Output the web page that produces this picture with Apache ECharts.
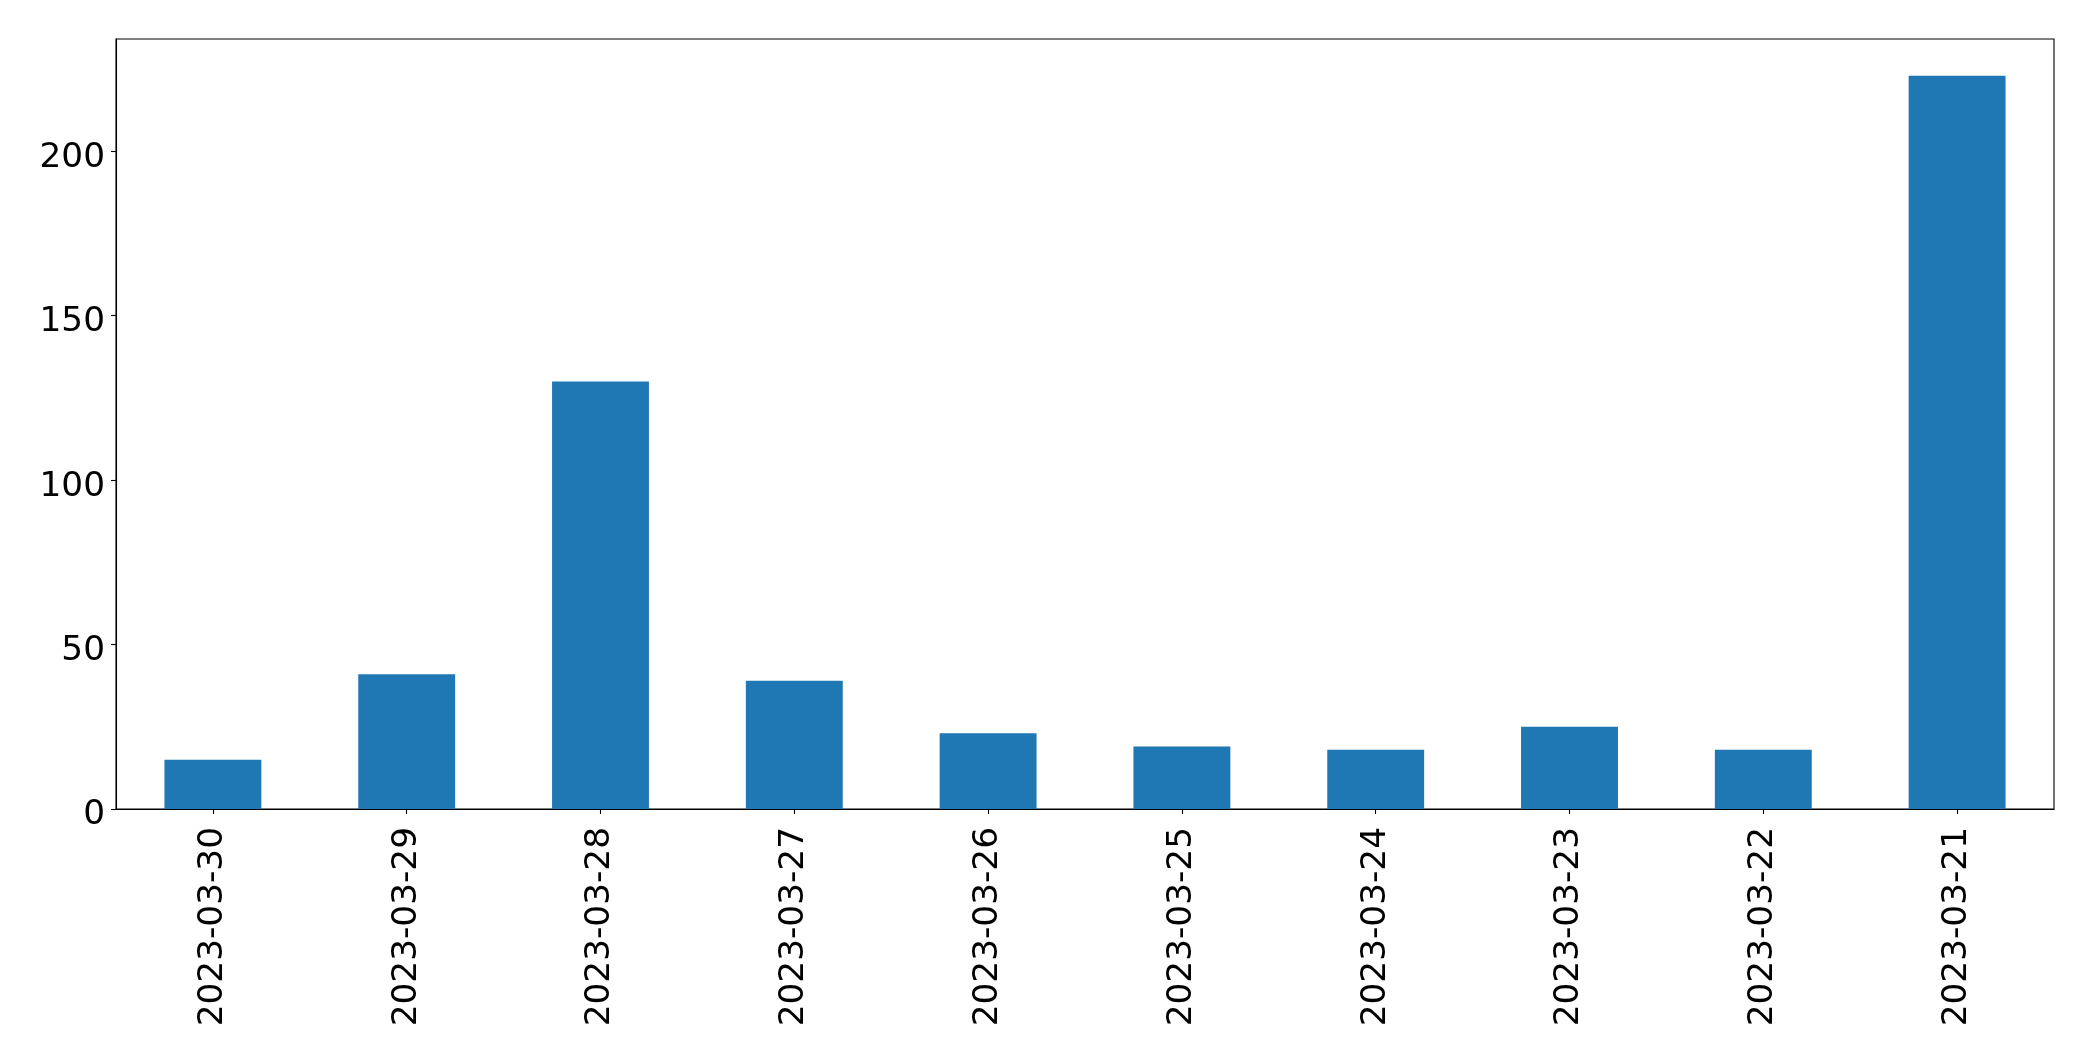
<!DOCTYPE html>
<html>
<head>
<meta charset="utf-8">
<script src="https://cdn.jsdelivr.net/npm/echarts@6/dist/echarts.min.js"></script>
<style>
html,body{margin:0;padding:0;background:#fff;}
#main{width:2093px;height:1061px;}
</style>
</head>
<body>
<div id="main"></div>
<script>
const categories = ['2023-03-30','2023-03-29','2023-03-28','2023-03-27','2023-03-26','2023-03-25','2023-03-24','2023-03-23','2023-03-22','2023-03-21'];
const values = [15, 41, 130, 39, 23, 19, 18, 25, 18, 223];
const yTicks = [0, 50, 100, 150, 200];

const chart = echarts.init(document.getElementById('main'), null, {renderer: 'canvas'});
const font = 'DejaVu Sans';
chart.setOption({
  animation: false,
  backgroundColor: '#ffffff',
  grid: {left: 116, right: 39, top: 39, bottom: 252, show: true, borderColor: '#000', borderWidth: 1.1, backgroundColor: 'transparent'},
  xAxis: {
    type: 'category',
    data: categories,
    axisLine: {show: true, lineStyle: {color: '#000', width: 1.1}},
    axisTick: {show: true, alignWithLabel: true, length: 5, lineStyle: {color: '#000', width: 1.1}},
    axisLabel: {rotate: 90, margin: 18, color: '#000', fontFamily: font, fontSize: 34.3, interval: 0},
    splitLine: {show: false}
  },
  yAxis: {
    type: 'value',
    min: 0,
    max: 234.15,
    interval: 50,
    axisLine: {show: true, lineStyle: {color: '#000', width: 1.1}},
    axisTick: {show: true, length: 5, lineStyle: {color: '#000', width: 1.1}, customValues: yTicks},
    axisLabel: {
      margin: 11, color: '#000', fontFamily: font, fontSize: 34.3, customValues: yTicks,
      formatter: function (v) { return '{a|' + v + '}'; },
      rich: {a: {fontFamily: font, fontSize: 34.3, color: '#000', padding: [13, 0, 0, 0]}}
    },
    splitLine: {show: false}
  },
  series: [{
    type: 'bar',
    data: values,
    barWidth: '50%',
    itemStyle: {color: '#1f77b4'}
  }]
});
</script>
</body>
</html>
